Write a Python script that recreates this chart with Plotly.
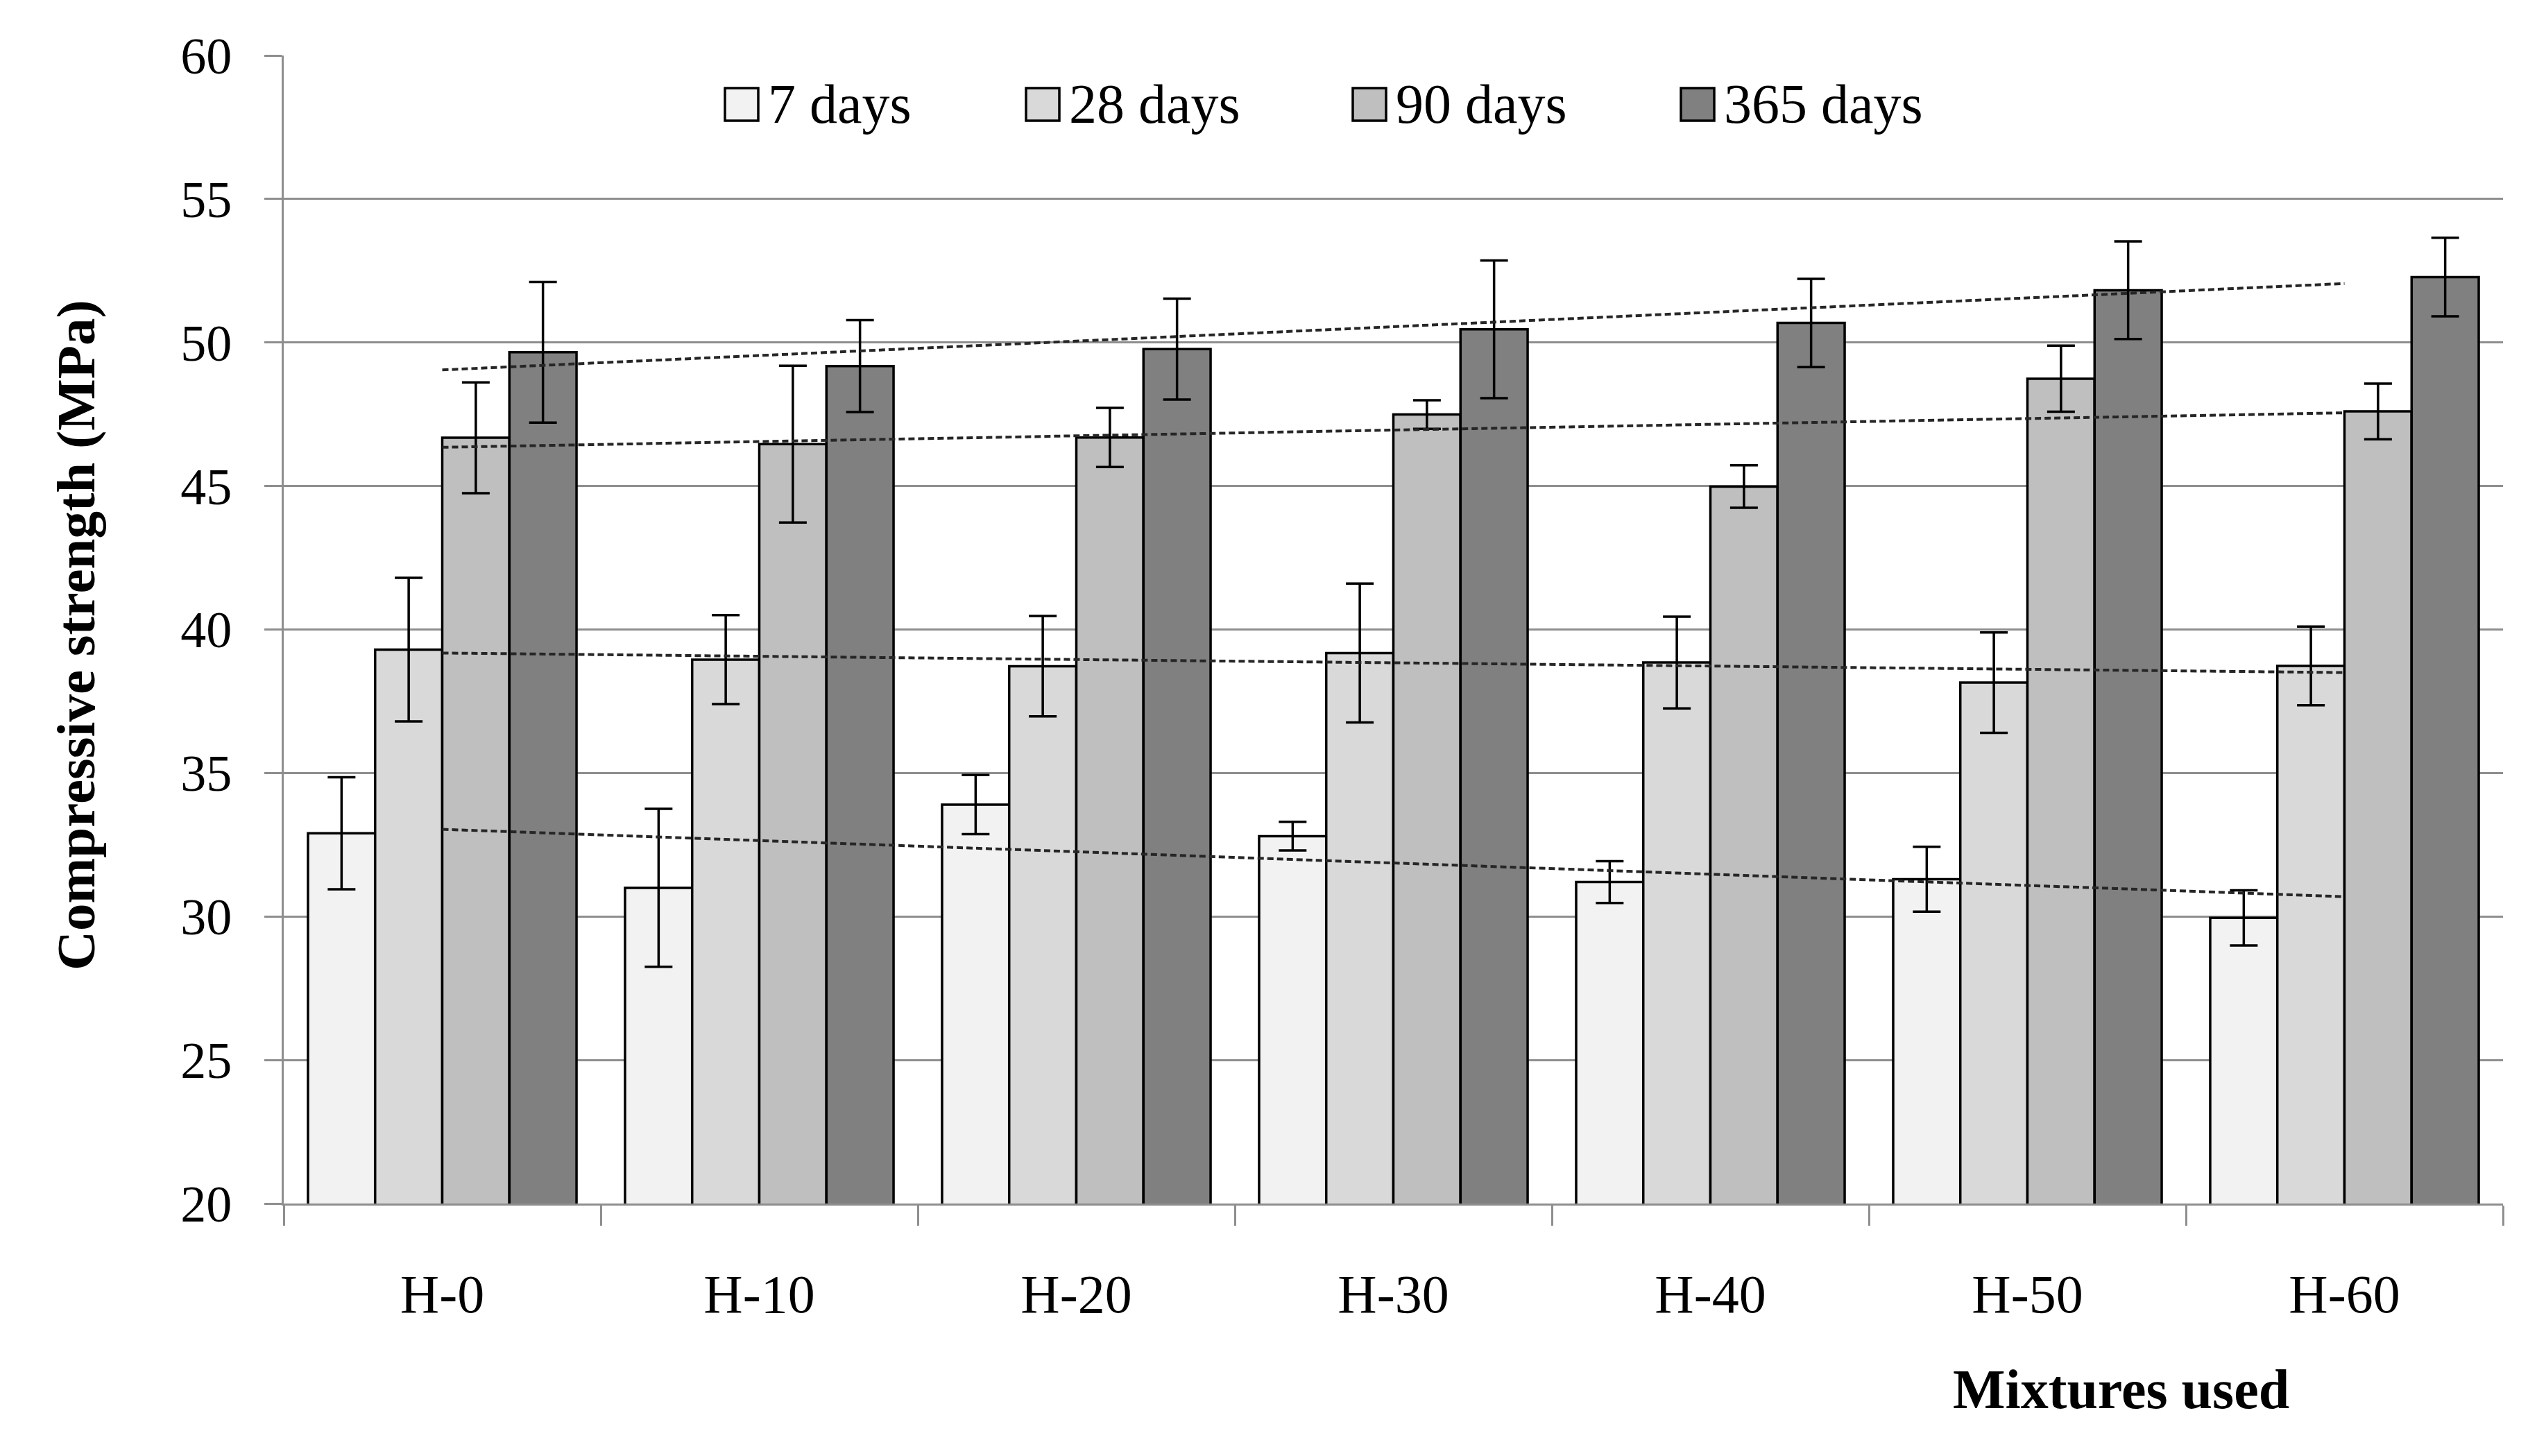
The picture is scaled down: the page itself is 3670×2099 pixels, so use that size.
import numpy as np
import plotly.graph_objects as go

categories = ["H-0", "H-10", "H-20", "H-30", "H-40", "H-50", "H-60"]
series_names = ["7 days", "28 days", "90 days", "365 days"]
d7 = [32.9, 31.0, 33.9, 32.8, 31.2, 31.3, 29.95]
d7_err = [1.95, 2.75, 1.03, 0.5, 0.73, 1.13, 0.96]
d28 = [39.3, 38.95, 38.72, 39.18, 38.85, 38.15, 38.73]
d28_err = [2.5, 1.55, 1.75, 2.42, 1.6, 1.75, 1.37]
d90 = [46.68, 46.46, 46.69, 47.49, 44.98, 48.74, 47.6]
d90_err = [1.93, 2.73, 1.03, 0.5, 0.74, 1.15, 0.97]
d365 = [49.66, 49.18, 49.77, 50.46, 50.68, 51.82, 52.28]
d365_err = [2.45, 1.6, 1.76, 2.4, 1.54, 1.7, 1.37]
y_ticks = [20, 25, 30, 35, 40, 45, 50, 55, 60]

values = [d7, d28, d90, d365]
errors = [d7_err, d28_err, d90_err, d365_err]
colors = ["#f2f2f2", "#d9d9d9", "#bfbfbf", "#808080"]

W, H = 3670, 2099
L, R, T, B = 409, 62, 80, 364
PW, PH = W - L - R, H - T - B
GREY = "#8e8e8e"
FONT = "Liberation Serif"


def px2paper(x, y):
    return (x - L) / PW, (H - B - y) / PH


fig = go.Figure()
for name, vals, errs, col in zip(series_names, values, errors, colors):
    fig.add_trace(go.Bar(
        x=categories, y=vals, name=name,
        marker=dict(color=col, line=dict(color="black", width=3.5)),
        error_y=dict(type="data", array=errs, visible=True,
                     color="black", thickness=3.5, width=20),
        showlegend=False,
    ))

# linear trendlines (fitted from the series values)
xs = np.arange(len(categories))
for vals in values:
    k, b = np.polyfit(xs, vals, 1)
    fig.add_trace(go.Scatter(
        x=categories, y=k * xs + b, mode="lines",
        line=dict(color="#262626", width=4, dash="9px,5px"),
        showlegend=False, hoverinfo="skip",
    ))

# manual legend (large boxes)
legend_box_x = [1045, 1479, 1950, 2423]
shapes = []
annotations = []
for name, col, bx in zip(series_names, colors, legend_box_x):
    x0, y0 = px2paper(bx, 174)
    x1, y1 = px2paper(bx + 48, 127)
    shapes.append(dict(type="rect", xref="paper", yref="paper",
                       x0=x0, y0=y0, x1=x1, y1=y1,
                       fillcolor=col, line=dict(color="black", width=3.5)))
    tx, ty = px2paper(bx + 60, 150)
    annotations.append(dict(xref="paper", yref="paper", x=tx, y=ty,
                            text=name, showarrow=False, xanchor="left",
                            yanchor="middle",
                            font=dict(family=FONT, size=80, color="black")))

# axis titles
ax, ay = px2paper(109, 916)
annotations.append(dict(xref="paper", yref="paper", x=ax, y=ay,
                        text="<b>Compressive strength (MPa)</b>", textangle=-90,
                        showarrow=False, xanchor="center", yanchor="middle",
                        font=dict(family=FONT, size=79, color="black")))
bx_, by_ = px2paper(3057, 2003)
annotations.append(dict(xref="paper", yref="paper", x=bx_, y=by_,
                        text="<b>Mixtures used</b>",
                        showarrow=False, xanchor="center", yanchor="middle",
                        font=dict(family=FONT, size=80, color="black")))

fig.update_layout(
    width=W, height=H,
    margin=dict(l=L, r=R, t=T, b=B, pad=0),
    paper_bgcolor="white", plot_bgcolor="white",
    barmode="group", bargap=0.153, bargroupgap=0,
    shapes=shapes, annotations=annotations,
    font=dict(family=FONT, color="black"),
)
fig.update_xaxes(
    type="category", tickson="boundaries", ticks="outside", ticklen=29,
    tickwidth=3, tickcolor=GREY, showline=True, linecolor=GREY, linewidth=3,
    showgrid=False, tickfont=dict(family=FONT, size=78, color="black"),
    ticklabelstandoff=60,
)
fig.update_yaxes(
    range=[20, 60], tickvals=y_ticks, ticks="outside", ticklen=25,
    tickwidth=3, tickcolor=GREY, showline=True, linecolor=GREY, linewidth=3,
    showgrid=True, gridcolor=GREY, gridwidth=3, zeroline=False,
    tickfont=dict(family=FONT, size=74, color="black"),
    ticklabelstandoff=32,
)

fig.write_html("out.html",
               config={"displayModeBar": False},
               post_script="document.body.style.margin='0';")
